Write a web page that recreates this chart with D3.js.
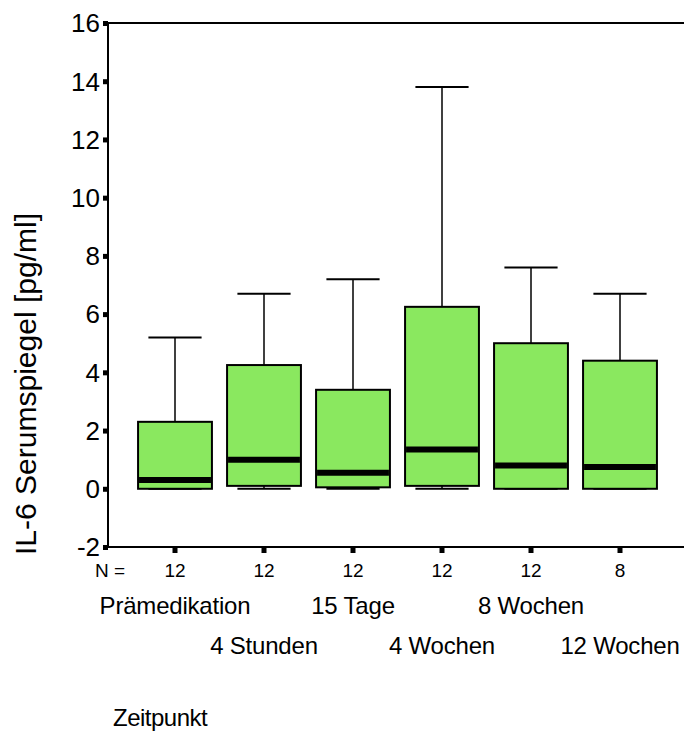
<!DOCTYPE html>
<html>
	<head>
		<meta charset="utf-8">
		<title>IL-6 Serumspiegel</title>
		<style>
			body { margin: 0; background: #fff; }
			svg text { font-family: "Liberation Sans", Arial, sans-serif; fill: #000; }
			.tick { font-size: 26px; }
			.nlab { font-size: 19px; }
			.cat { font-size: 24px; letter-spacing: -0.2px; }
			.ytitle { font-size: 29px; }
			.xtitle { font-size: 24px; letter-spacing: -0.5px; }
		</style>
	</head>
	<body>
		<div id="chart"></div>
		<script src="https://cdn.jsdelivr.net/npm/d3@7"></script>
		<script>
			// data
			var categories = ["Prämedikation", "4 Stunden", "15 Tage", "4 Wochen", "8 Wochen", "12 Wochen"]
			var counts = [12, 12, 12, 12, 12, 8]
			var whiskerLow = [0, 0, 0, 0, 0, 0]
			var q1 = [0, 0.1, 0.05, 0.1, 0, 0]
			var median = [0.3, 1.0, 0.55, 1.35, 0.8, 0.75]
			var q3 = [2.3, 4.25, 3.4, 6.25, 5.0, 4.4]
			var whiskerHigh = [5.2, 6.7, 7.2, 13.8, 7.6, 6.7]
			var yTicks = [-2, 0, 2, 4, 6, 8, 10, 12, 14, 16]

			var width = 684, height = 731
			var plotLeft = 108, plotTop = 23, plotBottom = 547

			var svg = d3.select("#chart").append("svg")
				.attr("width", width)
				.attr("height", height)

			var x = d3.scaleBand()
				.domain(categories)
				.range([130.5, 664.5])
				.paddingInner(0.17)
				.paddingOuter(0.085)

			var y = d3.scaleLinear()
				.domain([-2, 16])
				.range([plotBottom, plotTop])

			var boxes = categories.map(function(c, i) {
				return { cat: c, n: counts[i], lo: whiskerLow[i], q1: q1[i], med: median[i], q3: q3[i], hi: whiskerHigh[i] }
			})

			// frame lines: left axis, top line, bottom axis
			svg.append("line").attr("x1", plotLeft).attr("x2", width).attr("y1", plotTop).attr("y2", plotTop)
				.attr("stroke", "#000").attr("stroke-width", 2)
			svg.append("line").attr("x1", plotLeft).attr("x2", width).attr("y1", plotBottom).attr("y2", plotBottom)
				.attr("stroke", "#000").attr("stroke-width", 2)
			svg.append("line").attr("x1", plotLeft).attr("x2", plotLeft).attr("y1", plotTop - 1).attr("y2", plotBottom + 1)
				.attr("stroke", "#000").attr("stroke-width", 2)

			// y ticks
			var yt = svg.append("g")
			yt.selectAll("rect").data(yTicks).enter().append("rect")
				.attr("x", plotLeft - 5).attr("y", function(d) { return y(d) - 2 })
				.attr("width", 5).attr("height", 5).attr("fill", "#000")
			yt.selectAll("text").data(yTicks).enter().append("text")
				.attr("class", "tick")
				.attr("text-anchor", "end")
				.attr("x", 100)
				.attr("y", function(d) { return y(d) })
				.attr("dy", "0.36em")
				.text(function(d) { return d })

			// x ticks
			svg.append("g").selectAll("rect").data(categories).enter().append("rect")
				.attr("x", function(d) { return x(d) + x.bandwidth() / 2 - 2.5 })
				.attr("y", plotBottom + 1).attr("width", 5).attr("height", 5).attr("fill", "#000")

			var cx = function(d) { return x(d.cat) + x.bandwidth() / 2 }
			var capW = x.bandwidth() * 0.72

			var g = svg.append("g").selectAll("g").data(boxes).enter().append("g")

			// whiskers
			g.append("line")
				.attr("x1", cx).attr("x2", cx)
				.attr("y1", function(d) { return y(d.hi) }).attr("y2", function(d) { return y(d.q3) })
				.attr("stroke", "#000").attr("stroke-width", 1.5)
			g.append("line")
				.attr("x1", cx).attr("x2", cx)
				.attr("y1", function(d) { return y(d.lo) }).attr("y2", function(d) { return y(d.q1) })
				.attr("stroke", "#000").attr("stroke-width", 1.5)
			g.append("line")
				.attr("x1", function(d) { return cx(d) - capW / 2 }).attr("x2", function(d) { return cx(d) + capW / 2 })
				.attr("y1", function(d) { return y(d.hi) }).attr("y2", function(d) { return y(d.hi) })
				.attr("stroke", "#000").attr("stroke-width", 2)
			g.append("line")
				.attr("x1", function(d) { return cx(d) - capW / 2 }).attr("x2", function(d) { return cx(d) + capW / 2 })
				.attr("y1", function(d) { return y(d.lo) }).attr("y2", function(d) { return y(d.lo) })
				.attr("stroke", "#000").attr("stroke-width", 2)

			// boxes
			g.append("rect")
				.attr("x", function(d) { return x(d.cat) })
				.attr("width", x.bandwidth())
				.attr("y", function(d) { return y(d.q3) })
				.attr("height", function(d) { return y(d.q1) - y(d.q3) })
				.attr("fill", "#8ae85f")
				.attr("stroke", "#000").attr("stroke-width", 2)

			// medians
			g.append("line")
				.attr("x1", function(d) { return x(d.cat) + 1 }).attr("x2", function(d) { return x(d.cat) + x.bandwidth() - 1 })
				.attr("y1", function(d) { return y(d.med) }).attr("y2", function(d) { return y(d.med) })
				.attr("stroke", "#000").attr("stroke-width", 6)

			// N row
			svg.append("text").attr("class", "nlab").attr("x", 95).attr("y", 577).text("N =")
			svg.append("g").selectAll("text").data(boxes).enter().append("text")
				.attr("class", "nlab")
				.attr("text-anchor", "middle")
				.attr("x", cx).attr("y", 577)
				.text(function(d) { return d.n })

			// staggered category labels
			svg.append("g").selectAll("text").data(boxes).enter().append("text")
				.attr("class", "cat")
				.attr("text-anchor", "middle")
				.attr("x", cx)
				.attr("y", function(d, i) { return i % 2 === 0 ? 614 : 654 })
				.text(function(d) { return d.cat })

			// axis titles
			svg.append("text").attr("class", "ytitle")
				.attr("transform", "translate(36,384) rotate(-90)")
				.attr("text-anchor", "middle")
				.attr("textLength", 342)
				.attr("lengthAdjust", "spacingAndGlyphs")
				.text("IL-6 Serumspiegel [pg/ml]")

			svg.append("text").attr("class", "xtitle")
				.attr("x", 113).attr("y", 726)
				.text("Zeitpunkt")
		</script>
	</body>
</html>
